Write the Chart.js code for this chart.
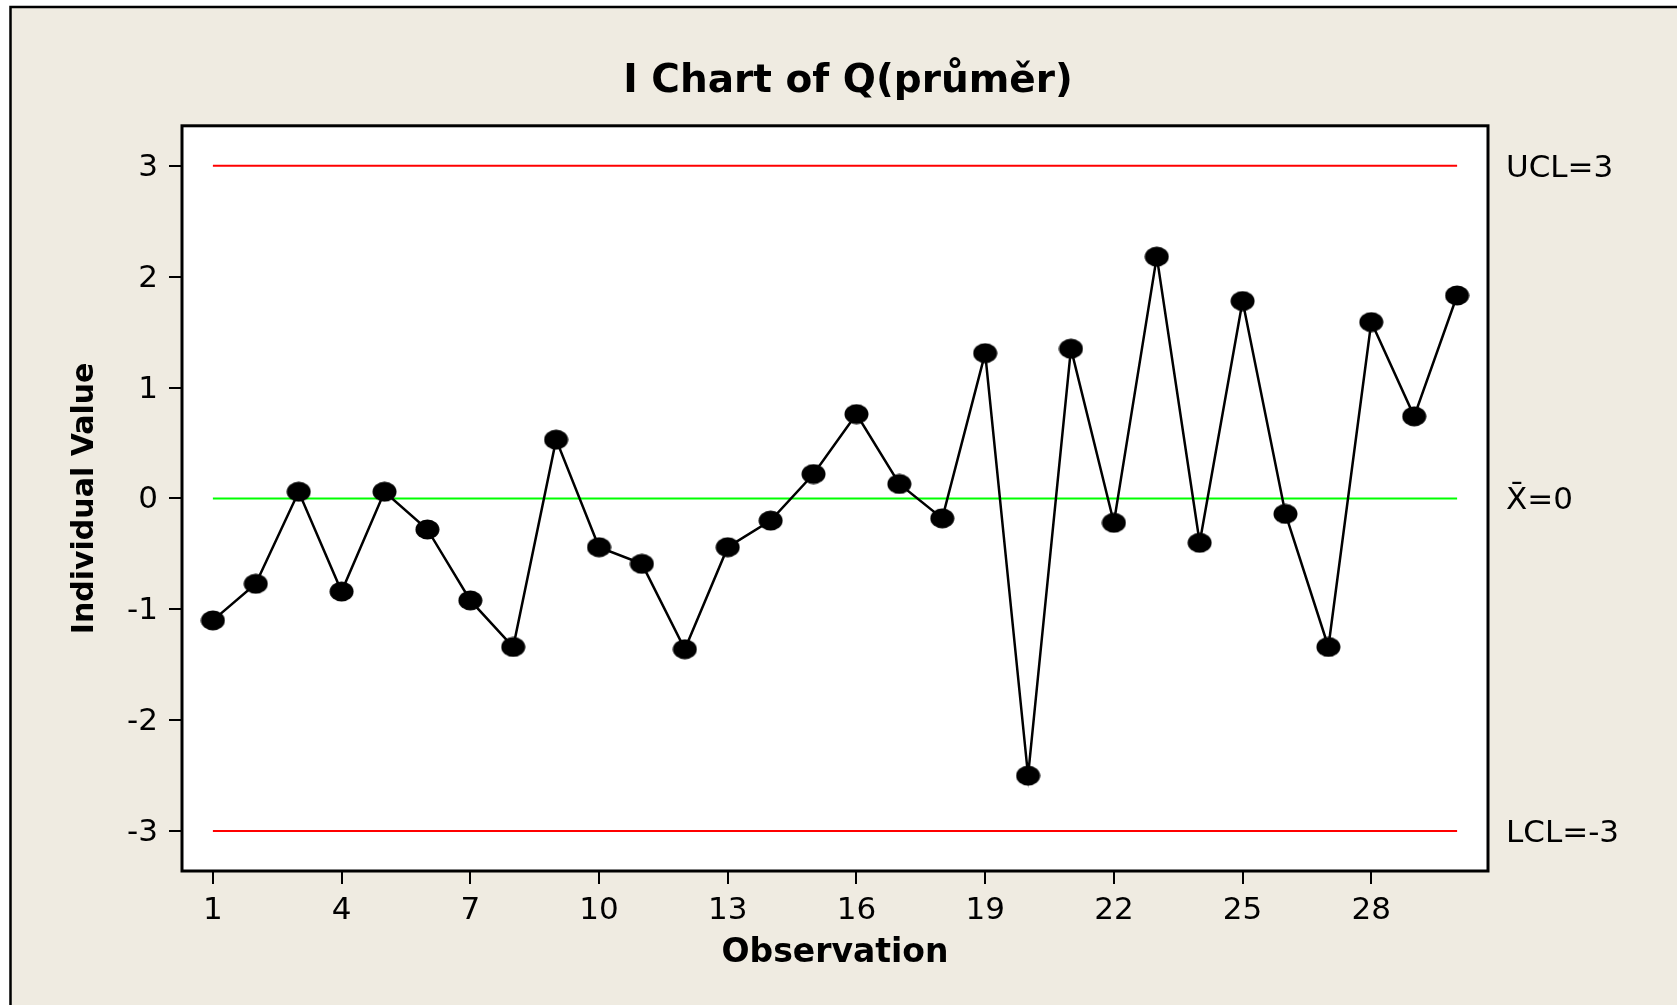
<!DOCTYPE html>
<html>
<head>
<meta charset="utf-8">
<title>I Chart of Q(průměr)</title>
<script src="https://cdn.jsdelivr.net/npm/chart.js@4/dist/chart.umd.min.js"></script>
<style>
  html, body { margin: 0; padding: 0; background: #fff; }
  canvas { display: block; }
</style>
</head>
<body>
<canvas id="ichart" width="1677" height="1005"></canvas>
<script>
// Observation numbers and individual values
const observations = [1, 2, 3, 4, 5, 6, 7, 8, 9, 10, 11, 12, 13, 14, 15,
                      16, 17, 18, 19, 20, 21, 22, 23, 24, 25, 26, 27, 28, 29, 30];
const values = [-1.10, -0.77, 0.06, -0.84, 0.06, -0.28, -0.92, -1.34, 0.53, -0.44,
                -0.59, -1.36, -0.44, -0.20, 0.22, 0.76, 0.13, -0.18, 1.31, -2.50,
                1.35, -0.22, 2.18, -0.40, 1.78, -0.14, -1.34, 1.59, 0.74, 1.83];

// Control limits
const UCL = 3;
const CENTER = 0;
const LCL = -3;
const limitLabels = ['LCL=-3', 'X\u0304=0', 'UCL=3'];

// Axis ticks
const xTicks = [1, 4, 7, 10, 13, 16, 19, 22, 25, 28];
const yTicks = [-3, -2, -1, 0, 1, 2, 3];
const X_MIN = 0.28, X_MAX = 30.72;
const Y_MIN = -3.36, Y_MAX = 3.36;

const FONT = 'DejaVu Sans, Verdana, sans-serif';

// filled ellipse used as point marker
const dot = document.createElement('canvas');
dot.width = 25;
dot.height = 21;
const dctx = dot.getContext('2d');
dctx.fillStyle = '#000';
dctx.beginPath();
dctx.ellipse(12.5, 10.5, 12, 10, 0, 0, Math.PI * 2);
dctx.fill();

const first = observations[0];
const last = observations[observations.length - 1];
const limitLine = (y, color) => ({
    data: [{ x: first, y: y }, { x: last, y: y }],
    borderColor: color,
    borderWidth: 2,
    pointRadius: 0,
    tension: 0
});

// beige page with the black frame on the left/top, white plot area
const frame = {
    id: 'frame',
    beforeDraw(chart) {
        const { ctx, width, height, chartArea: a } = chart;
        ctx.save();
        ctx.fillStyle = '#fff';
        ctx.fillRect(0, 0, width, height);
        ctx.fillStyle = '#EFEBE1';
        ctx.fillRect(11, 7, width - 11, height - 7);
        ctx.strokeStyle = '#000';
        ctx.lineWidth = 2.5;
        ctx.beginPath();
        ctx.moveTo(10.5, height);
        ctx.lineTo(10.5, 7);
        ctx.lineTo(width, 7);
        ctx.stroke();
        ctx.fillStyle = '#fff';
        ctx.fillRect(a.left, a.top, a.right - a.left, a.bottom - a.top);
        ctx.restore();
    },
    afterDraw(chart) {
        const { ctx, chartArea: a } = chart;
        ctx.save();
        ctx.strokeStyle = '#000';
        ctx.lineWidth = 3;
        ctx.strokeRect(a.left, a.top, a.right - a.left, a.bottom - a.top);
        ctx.restore();
    }
};

const ctx = document.getElementById('ichart').getContext('2d');
new Chart(ctx, {
    type: 'line',
    data: {
        datasets: [
            {
                data: observations.map((o, i) => ({ x: o, y: values[i] })),
                borderColor: '#000',
                borderWidth: 2.5,
                pointStyle: dot,
                pointRadius: 10,
                tension: 0
            },
            limitLine(UCL, '#FF0000'),
            limitLine(CENTER, '#00FF00'),
            limitLine(LCL, '#FF0000')
        ]
    },
    options: {
        responsive: false,
        animation: false,
        layout: { padding: { left: 19, top: 0, right: 0, bottom: 0 } },
        plugins: {
            legend: { display: false },
            tooltip: { enabled: false },
            title: {
                display: true,
                text: 'I Chart of Q(průměr)',
                color: '#000',
                font: { family: FONT, size: 39, weight: 'bold' },
                padding: { top: 58, bottom: 21 }
            }
        },
        scales: {
            x: {
                type: 'linear',
                min: X_MIN,
                max: X_MAX,
                afterBuildTicks: s => { s.ticks = xTicks.map(v => ({ value: v })); },
                afterFit: s => { s.height = 134; },
                border: { display: false },
                grid: { drawOnChartArea: false, drawTicks: true, tickLength: 13, color: '#000', lineWidth: 2 },
                ticks: { color: '#000', padding: 8, maxRotation: 0, font: { family: FONT, size: 31 } },
                title: {
                    display: true,
                    text: 'Observation',
                    color: '#000',
                    font: { family: FONT, size: 33, weight: 'bold' },
                    padding: { top: 0, bottom: 32 }
                }
            },
            y: {
                position: 'left',
                min: Y_MIN,
                max: Y_MAX,
                afterBuildTicks: s => { s.ticks = yTicks.map(v => ({ value: v })); },
                afterFit: s => { s.width = 163; },
                border: { display: false },
                grid: { drawOnChartArea: false, drawTicks: true, tickLength: 13, color: '#000', lineWidth: 2 },
                ticks: { color: '#000', padding: 11, labelOffset: 2, font: { family: FONT, size: 31 } },
                title: {
                    display: true,
                    text: 'Individual Value',
                    color: '#000',
                    font: { family: FONT, size: 30, weight: 'bold' },
                    padding: { top: 48, bottom: 0 }
                }
            },
            limits: {
                position: 'right',
                min: Y_MIN,
                max: Y_MAX,
                afterBuildTicks: s => { s.ticks = [LCL, CENTER, UCL].map(v => ({ value: v })); },
                afterFit: s => { s.width = 189; },
                border: { display: false },
                grid: { display: false, drawTicks: false },
                ticks: {
                    color: '#000',
                    padding: 18,
                    labelOffset: 3,
                    font: { family: FONT, size: 31 },
                    callback: (v, i) => limitLabels[i]
                }
            }
        }
    },
    plugins: [frame]
});
</script>
</body>
</html>
